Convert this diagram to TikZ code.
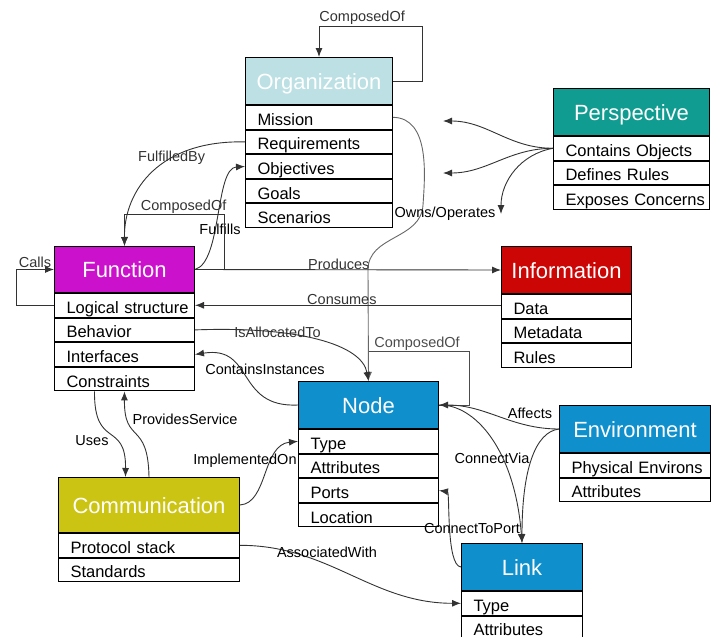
\documentclass[tikz,border=0pt]{standalone}
\usepackage{fontspec}
\setmainfont{Liberation Sans}
\usetikzlibrary{arrows.meta}

\definecolor{orgcol}{HTML}{BCE0E3}
\definecolor{percol}{HTML}{109C90}
\definecolor{fncol}{HTML}{CC11CC}
\definecolor{infocol}{HTML}{CC0505}
\definecolor{bluecol}{HTML}{0F8FCC}
\definecolor{commcol}{HTML}{CCC412}

\tikzset{
  hdr/.style={draw, anchor=north west, text=white, inner sep=0pt, minimum height=47pt,
    text height=16pt, text depth=0pt, font=\fontsize{22}{24}\selectfont, line width=1pt},
  row/.style={draw, anchor=north west, text width=#1, inner xsep=2pt, inner ysep=0pt,
    minimum height=23.6pt, text height=17pt, text depth=1pt, align=left,
    execute at begin node={\hspace*{10pt}},
    font=\fontsize{16.5}{18}\selectfont, line width=1pt},
  lbl/.style={font=\fontsize{14.5}{16}\selectfont, inner sep=1pt},
  conn/.style={line width=0.9pt, black!80},
}

\begin{document}
\begin{tikzpicture}[x=1pt,y=-1pt,>={Latex[length=9pt,width=7pt]}]
        \useasboundingbox (0,0) rectangle (712,637);
        % Organization
        \node[hdr, fill=orgcol, minimum width=147] (org) at (245,57) {Organization};
        \node[row=143pt] (org1) at (org.south west) {Mission};
        \node[row=143pt] (org2) at (org1.south west) {Requirements};
        \node[row=143pt] (org3) at (org2.south west) {Objectives};
        \node[row=143pt] (org4) at (org3.south west) {Goals};
        \node[row=143pt] (org5) at (org4.south west) {Scenarios};
        % Perspective
        \node[hdr, fill=percol, minimum width=156] (per) at (553,88) {Perspective};
        \node[row=152pt] (per1) at (per.south west) {Contains Objects};
        \node[row=152pt] (per2) at (per1.south west) {Defines Rules};
        \node[row=152pt] (per3) at (per2.south west) {Exposes Concerns};
        % Function
        \node[hdr, fill=fncol, minimum width=140, minimum height=46] (fn) at (54,246) {Function};
        \node[row=136pt] (fn1) at (fn.south west) {Logical structure};
        \node[row=136pt] (fn2) at (fn1.south west) {Behavior};
        \node[row=136pt] (fn3) at (fn2.south west) {Interfaces};
        \node[row=136pt] (fn4) at (fn3.south west) {Constraints};
        % Information
        \node[hdr, fill=infocol, minimum width=130] (info) at (501,246) {Information};
        \node[row=126pt] (info1) at (info.south west) {Data};
        \node[row=126pt] (info2) at (info1.south west) {Metadata};
        \node[row=126pt] (info3) at (info2.south west) {Rules};
        % Node
        \node[hdr, fill=bluecol, minimum width=140] (node) at (298,381) {Node};
        \node[row=136pt] (node1) at (node.south west) {Type};
        \node[row=136pt] (node2) at (node1.south west) {Attributes};
        \node[row=136pt] (node3) at (node2.south west) {Ports};
        \node[row=136pt] (node4) at (node3.south west) {Location};
        % Environment
        \node[hdr, fill=bluecol, minimum width=151] (env) at (559,405) {Environment};
        \node[row=147pt] (env1) at (env.south west) {Physical Environs};
        \node[row=147pt] (env2) at (env1.south west) {Attributes};
        % Communication
        \node[hdr, fill=commcol, minimum width=181, minimum height=55] (comm) at (58,477) {Communication};
        \node[row=177pt] (comm1) at (comm.south west) {Protocol stack};
        \node[row=177pt] (comm2) at (comm1.south west) {Standards};
        % Link
        \node[hdr, fill=bluecol, minimum width=121] (link) at (461,543) {Link};
        \node[row=117pt] (link1) at (link.south west) {Type};
        \node[row=117pt] (link2) at (link1.south west) {Attributes};

        % Perspective arrows
        \coordinate (p1) at (443,121);
        \coordinate (p2) at (443,173);
        \coordinate (p3) at (501,214);
        \draw[conn,->] (per1.west) to[out=180,in=0] (p1);
        \draw[conn,->] (per1.west) to[out=180,in=0] (p2);
        \draw[conn,->] (per1.west) to[out=190,in=90] (p3);

        % Organization links
        \draw[conn,->] (org.east) -- ++(29,0) -- ++(0,-55) -| node[lbl, pos=0.5, anchor=south west, inner xsep=0pt]{ComposedOf} (org.north);
        \draw[conn,->] (org2.west) .. controls (160,140) and (124,190) .. node[lbl, pos=0.36]{FulfilledBy} (fn.north);
        \draw[conn,->] (fn.east) .. controls (222,262) and (215,168) .. (org3.west);
        \node[lbl] (lful) at (220,229) {Fulfills};
        \draw[conn, black!60, ->] (org1.east) .. controls (430,118) and (425,175) .. (423,205)
            .. controls (421,240) and (368,235) .. (368,270) -- (node.north);
        \node[lbl] (lown) at (445,214) {Owns/Operates};

        % Function links
        \draw[conn,->] (fn.east) ++(29,0) -- ++(0,-55) -| node[lbl, pos=0.5, anchor=south west, xshift=15pt]{ComposedOf} (fn.north);
        \draw[conn,->] (fn1.west) -- ++(-38,0) |- node[lbl, pos=0.75, above]{Calls} (fn.west);
        \draw[conn,->] (fn.east) -- node[lbl, above, pos=0.47, inner ysep=0pt]{Produces} (info.west);
        \draw[conn,->] (fn1.east -| info1.west) -- node[lbl, above, pos=0.52, inner ysep=0pt]{Consumes} (fn1.east);
        \draw[conn,->] (fn2.east) .. controls (300,326) and (362,345) .. node[lbl, pos=0.3]{IsAllocatedTo} (node.north);
        \draw[conn,->] (node.west) .. controls (235,408) and (255,345) .. (fn3.east);
        \node[lbl] (lcont) at (265,369) {ContainsInstances};
        \draw[conn,->] ([xshift=-30pt]fn4.south) .. controls (94,450) and (126,420) .. ([xshift=-23.5pt]comm.north);
        \node[lbl] (luses) at (92,441) {Uses};
        \draw[conn,->] (comm.north) .. controls (148,420) and (124,445) .. (fn4.south);
        \node[lbl] (lprov) at (185,419) {ProvidesService};

        % Node links
        \draw[conn, black!70] (node.east) -- ++(30,0) -- ++(0,-54) -- node[lbl, above, pos=0.52, inner ysep=0pt]{ComposedOf} ++(-100,0);
        \draw[conn,->] (comm.east) .. controls (268,503) and (262,445) .. (node1.west);
        \node[lbl] (limpl) at (245,461) {ImplementedOn};
        \draw[conn,->] (comm1.east) to[out=0,in=180] (link1.west);
        \node[lbl] (lassoc) at (327,552) {AssociatedWith};
        \draw[conn,->] (link.west) .. controls (446,566) and (450,492) .. (node3.east);
        \node[lbl] (lport) at (472,529) {ConnectToPort};
        \draw[conn,->] (env.west) to[out=180,in=0] (node.east);
        \node[lbl] (laff) at (530,413) {Affects};
        \draw[conn,->] (node.east) .. controls (475,404) and (515,450) .. (link.north);
        \node[lbl] (lvia) at (492,458) {ConnectVia};
        \draw[conn,->] (env.west) .. controls (535,432) and (522,470) .. (link.north);
    \end{tikzpicture}
\end{document}
